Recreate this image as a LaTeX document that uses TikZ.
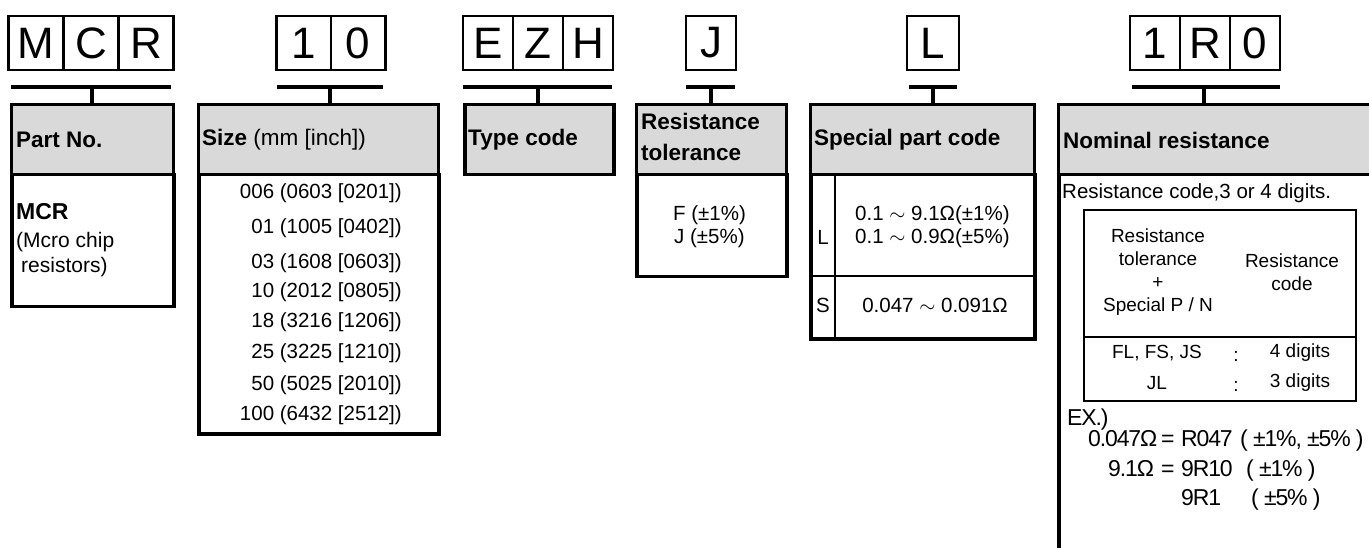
\documentclass[tikz,border=0pt]{standalone}
\usepackage{fontspec}
\setmainfont{Liberation Sans}
\newfontfamily\tightfont[LetterSpace=-5]{Liberation Sans}
\definecolor{hdrgray}{HTML}{D9D9D9}
\begin{document}
\begin{tikzpicture}[x=1pt,y=-1pt,
  cell/.style={draw, line width=2.5pt, minimum height=54pt, inner sep=0pt, font=\fontsize{44}{46}\selectfont},
  brk/.style={line width=3.3pt},
  hdr/.style={draw, fill=hdrgray, line width=3.2pt, anchor=north west, inner sep=0pt},
  bodybox/.style={draw, line width=3.5pt, anchor=north west, inner sep=0pt},
  thin/.style={line width=2pt},
  htxt/.style={inner sep=0pt, font=\fontsize{22.5}{31}\selectfont\bfseries, align=left},
  btxt/.style={inner sep=0pt, font=\fontsize{20.5}{24}\selectfont},
  extxt/.style={inner sep=0pt, anchor=base west, font=\fontsize{23}{26}\selectfont\tightfont},
  stxt/.style={inner sep=0pt, font=\fontsize{19}{23}\selectfont, align=center}]
\useasboundingbox (0,0) rectangle (1369,548);

% ---------- boxes ----------
% Part No.
\node[bodybox, minimum width=162pt, minimum height=132pt] (pnb) at (10,173) {};
\node[hdr, minimum width=162pt, minimum height=70pt] (pnh) at (10,103) {};
% Size
\node[bodybox, minimum width=240pt, minimum height=259pt] (szb) at (197,173) {};
\node[hdr, minimum width=240pt, minimum height=70pt] (szh) at (197,103) {};
% Type code
\node[hdr, minimum width=149pt, minimum height=70pt, line width=3.5pt] (tch) at (463,103) {};
% Resistance tolerance
\node[bodybox, minimum width=150pt, minimum height=102pt] (rtb) at (635,173) {};
\node[hdr, minimum width=150pt, minimum height=70pt] (rth) at (635,103) {};
% Special part code
\node[bodybox, minimum width=224pt, minimum height=164pt] (spb) at (809,173) {};
\node[hdr, minimum width=224pt, minimum height=70pt] (sph) at (809,103) {};
\coordinate (spv1) at (835,173);
\coordinate (spv2) at (835,337);
\coordinate (spr1) at (809,276);
\coordinate (spr2) at (1033,276);
\draw[thin] (spv1) -- (spv2);
\draw[thin] (spr1) -- (spr2);
% Nominal resistance (cut off at right and bottom)
\node[bodybox, minimum width=340pt, minimum height=400pt] (nrb) at (1057,173) {};
\node[hdr, minimum width=340pt, minimum height=70pt] (nrh) at (1057,103) {};
% inner table
\node[draw, line width=2.2pt, anchor=north west, inner sep=0pt, minimum width=272pt, minimum height=191pt] (itb) at (1083,209) {};
\coordinate (itd1) at (1083,337);
\coordinate (itd2) at (1355,337);
\draw[thin] (itd1) -- (itd2);

% ---------- top code cells ----------
\node[cell, minimum width=55pt] (m) at (36,43) {M};
\node[cell, minimum width=55pt] (c) at (91,43) {C};
\node[cell, minimum width=55pt] (r) at (146,43) {R};
\node[cell, minimum width=54.5pt] (s1) at (303.5,43) {1};
\node[cell, minimum width=54.5pt] (s0) at (358,43) {0};
\node[cell, minimum width=50pt] (e) at (488,43) {E};
\node[cell, minimum width=50pt] (z) at (538,43) {Z};
\node[cell, minimum width=50pt] (h) at (588,43) {H};
\node[cell, minimum width=50pt] (j) at (711,43) {J};
\node[cell, minimum width=52pt] (l) at (933,43) {L};
\node[cell, minimum width=50pt] (n1) at (1155,43) {1};
\node[cell, minimum width=50pt] (nr) at (1205,43) {R};
\node[cell, minimum width=50pt] (n0) at (1255,43) {0};

% ---------- brackets ----------
\coordinate (b1l) at (11,87);   \coordinate (b1r) at (171,87);  \coordinate (b1c) at (92,87);
\coordinate (b2l) at (277,87);  \coordinate (b2r) at (383,87);  \coordinate (b2c) at (330,87);
\coordinate (b3l) at (463,87);  \coordinate (b3r) at (612,87);  \coordinate (b3c) at (538,87);
\coordinate (b4l) at (686,87);  \coordinate (b4r) at (735,87);  \coordinate (b4c) at (711,87);
\coordinate (b5l) at (909,87);  \coordinate (b5r) at (957,87);  \coordinate (b5c) at (933,87);
\coordinate (b6l) at (1132,87); \coordinate (b6r) at (1280,87); \coordinate (b6c) at (1204,87);
\draw[brk] (b1l) -- (b1r); \draw[brk] (b1c) -- (b1c |- pnh.north);
\draw[brk] (b2l) -- (b2r); \draw[brk] (b2c) -- (b2c |- szh.north);
\draw[brk] (b3l) -- (b3r); \draw[brk] (b3c) -- (b3c |- tch.north);
\draw[brk] (b4l) -- (b4r); \draw[brk] (b4c) -- (b4c |- rth.north);
\draw[brk] (b5l) -- (b5r); \draw[brk] (b5c) -- (b5c |- sph.north);
\draw[brk] (b6l) -- (b6r); \draw[brk] (b6c) -- (b6c |- nrh.north);

% ---------- header texts ----------
\node[htxt, anchor=west] (t-pn) at (16,140) {Part No.};
\node[htxt, anchor=west] (t-sz) at (202,140) {Size \mdseries(mm [inch])};
\node[htxt, anchor=west] (t-tc) at (468,140) {Type code};
\node[htxt, anchor=west] (t-rt) at (641,137) {Resistance\\tolerance};
\node[htxt, anchor=west] (t-sp) at (814,140) {Special part code};
\node[htxt, anchor=west] (t-nr) at (1063,140) {Nominal resistance};

% ---------- Part No. body ----------
\node[inner sep=0pt, font=\fontsize{23}{26}\selectfont\bfseries, anchor=west] (pn1) at (16,212) {MCR};
\node[btxt, font=\fontsize{21}{24}\selectfont, anchor=west] (pn2) at (16,242) {(Mcro chip};
\node[btxt, font=\fontsize{21}{24}\selectfont, anchor=west] (pn3) at (21,267) {resistors)};

% ---------- Size body ----------
\node[btxt, anchor=east] (sz1) at (402,193) {006 (0603 [0201])};
\node[btxt, anchor=east] (sz2) at (402,228) {01 (1005 [0402])};
\node[btxt, anchor=east] (sz3) at (402,263) {03 (1608 [0603])};
\node[btxt, anchor=east] (sz4) at (402,292) {10 (2012 [0805])};
\node[btxt, anchor=east] (sz5) at (402,322) {18 (3216 [1206])};
\node[btxt, anchor=east] (sz6) at (402,353) {25 (3225 [1210])};
\node[btxt, anchor=east] (sz7) at (402,385) {50 (5025 [2010])};
\node[btxt, anchor=east] (sz8) at (402,415) {100 (6432 [2512])};

% ---------- Resistance tolerance body ----------
\node[btxt, anchor=west] (rt1) at (673,215) {F (±1\%)};
\node[btxt, anchor=west] (rt2) at (674,238) {J (±5\%)};

% ---------- Special part code body ----------
\node[btxt] (spL) at (823,237) {L};
\node[btxt, anchor=west] (sp1) at (855,215) {0.1 $\sim$ 9.1Ω(±1\%)};
\node[btxt, anchor=west] (sp2) at (855,238) {0.1 $\sim$ 0.9Ω(±5\%)};
\node[btxt] (spS) at (823,305) {S};
\node[btxt] (sp3) at (935,305) {0.047 $\sim$ 0.091Ω};

% ---------- Nominal resistance body ----------
\node[btxt, anchor=west] (nr1) at (1062,193) {Resistance code,3 or 4 digits.};
\node[stxt] (ith1) at (1158,272) {Resistance\\tolerance\\+\\Special P / N};
\node[stxt] (ith2) at (1292,272) {Resistance\\code};
\node[stxt] (itr1a) at (1157,353) {FL, FS, JS};
\node[stxt] (itr1b) at (1236,356) {:};
\node[stxt] (itr1c) at (1300,353) {4 digits};
\node[stxt] (itr2a) at (1157,383) {JL};
\node[stxt] (itr2b) at (1236,386) {:};
\node[stxt] (itr2c) at (1300,383) {3 digits};
\node[extxt] (ex0) at (1067,425) {EX.)};
\node[extxt] (ex1a) at (1088,446) {0.047Ω};
\node[extxt] (ex1e) at (1161,446) {=};
\node[extxt] (ex1b) at (1181,446) {R047};
\node[extxt] (ex1c) at (1240,446) {( ±1\%, ±5\% )};
\node[extxt] (ex2a) at (1108,476) {9.1Ω};
\node[extxt] (ex2e) at (1161,476) {=};
\node[extxt] (ex2b) at (1181,476) {9R10};
\node[extxt] (ex2c) at (1246,476) {( ±1\% )};
\node[extxt] (ex3b) at (1181,505) {9R1};
\node[extxt] (ex3c) at (1251,505) {( ±5\% )};
\end{tikzpicture}
\end{document}
